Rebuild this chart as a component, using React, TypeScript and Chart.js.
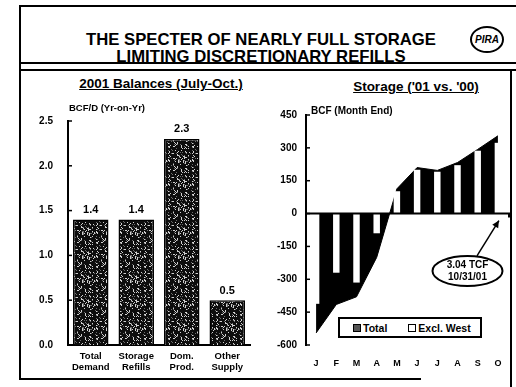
import React, { useEffect, useRef } from "react";
import { Chart, registerables } from "chart.js";

Chart.register(...registerables);

const FONT = '"Liberation Sans", Arial, Helvetica, sans-serif';

// ---- Left panel: 2001 Balances (July-Oct.) ----
const balanceCategories = [
  ["Total", "Demand"],
  ["Storage", "Refills"],
  ["Dom.", "Prod."],
  ["Other", "Supply"],
];
const balanceValues = [1.4, 1.4, 2.3, 0.5];
const balanceTicks = [0, 0.5, 1.0, 1.5, 2.0, 2.5];

// ---- Right panel: Storage ('01 vs. '00) ----
const months = ["J", "F", "M", "A", "M", "J", "J", "A", "S", "O"];
const storageTotal = [-545, -415, -380, -200, 113, 210, 197, 233, 293, 355];
const storageExclWest = [-412, -270, -315, -90, 102, 200, 191, 221, 287, 323];
const storageTicks = [-600, -450, -300, -150, 0, 150, 300, 450];

function makeSpeckle(ctx: CanvasRenderingContext2D): CanvasPattern | string {
  const size = 24;
  const c = document.createElement("canvas");
  c.width = size;
  c.height = size;
  const g = c.getContext("2d");
  if (!g) return "#333";
  g.fillStyle = "#0d0d0d";
  g.fillRect(0, 0, size, size);
  for (let y = 0; y < size; y++) {
    for (let x = 0; x < size; x++) {
      let h = (x * 374761393 + y * 668265263) | 0;
      h = Math.imul(h ^ (h >>> 13), 1274126177);
      h = (h ^ (h >>> 16)) >>> 0;
      const m = h % 100;
      if (m < 14) {
        g.fillStyle = "#d0d0d0";
        g.fillRect(x, y, 1, 1);
      } else if (m < 22) {
        g.fillStyle = "#6a6a6a";
        g.fillRect(x, y, 1, 1);
      }
    }
  }
  return ctx.createPattern(c, "repeat") || "#333";
}

const innerTicks = {
  id: "innerTicks",
  afterDatasetsDraw(chart: any) {
    const { ctx, chartArea, scales } = chart;
    const y = scales.y;
    ctx.save();
    ctx.strokeStyle = "#000";
    ctx.lineWidth = 1.5;
    y.ticks.forEach((t: any) => {
      const py = y.getPixelForValue(t.value);
      ctx.beginPath();
      ctx.moveTo(chartArea.left, py);
      ctx.lineTo(chartArea.left + 4, py);
      ctx.stroke();
    });
    ctx.restore();
  },
};

const valueLabels = {
  id: "valueLabels",
  afterDatasetsDraw(chart: any) {
    const { ctx } = chart;
    const meta = chart.getDatasetMeta(0);
    ctx.save();
    ctx.fillStyle = "#000";
    ctx.font = `bold 11px ${FONT}`;
    ctx.textAlign = "center";
    ctx.textBaseline = "bottom";
    meta.data.forEach((el: any, i: number) => {
      ctx.fillText(balanceValues[i].toFixed(1), el.x, el.y - 4);
    });
    ctx.restore();
  },
};

const storageDecor = {
  id: "storageDecor",
  afterDatasetsDraw(chart: any) {
    const { ctx, chartArea, scales } = chart;
    const x = scales.x;
    const y = scales.y;
    const y0 = y.getPixelForValue(0);
    ctx.save();
    // zero line
    ctx.strokeStyle = "#000";
    ctx.lineWidth = 2;
    ctx.beginPath();
    ctx.moveTo(chartArea.left, y0);
    ctx.lineTo(chartArea.right + 2, y0);
    ctx.stroke();
    ctx.beginPath();
    ctx.moveTo(chartArea.right + 1, y0);
    ctx.lineTo(chartArea.right + 1, y0 + 4);
    ctx.stroke();

    // callout ellipse
    const cx = chartArea.right - 40.5;
    const cy = y.getPixelForValue(-262);
    ctx.lineWidth = 2;
    ctx.fillStyle = "#fff";
    ctx.beginPath();
    ctx.ellipse(cx, cy, 35, 15, 0, 0, Math.PI * 2);
    ctx.fill();
    ctx.stroke();
    ctx.fillStyle = "#000";
    ctx.font = `bold 10px ${FONT}`;
    ctx.textAlign = "center";
    ctx.textBaseline = "middle";
    ctx.fillText("3.04 TCF", cx, cy - 6);
    ctx.fillText("10/31/01", cx, cy + 6);

    // arrow
    const sx = cx + 9.5;
    const sy = cy - 15;
    const tx = x.getPixelForValue(9) + 1;
    const ty = y0 + 7;
    ctx.lineWidth = 1.5;
    ctx.beginPath();
    ctx.moveTo(sx, sy);
    ctx.lineTo(tx, ty);
    ctx.stroke();
    const dx = tx - sx;
    const dy = ty - sy;
    const len = Math.hypot(dx, dy);
    const ux = dx / len;
    const uy = dy / len;
    ctx.beginPath();
    ctx.moveTo(tx, ty);
    ctx.lineTo(tx - ux * 7 - uy * 3.5, ty - uy * 7 + ux * 3.5);
    ctx.lineTo(tx - ux * 7 + uy * 3.5, ty - uy * 7 - ux * 3.5);
    ctx.closePath();
    ctx.fill();
    ctx.restore();
  },
};

export default function App() {
  const leftRef = useRef<HTMLCanvasElement>(null);
  const rightRef = useRef<HTMLCanvasElement>(null);

  useEffect(() => {
    document.body.style.margin = "0";
    const lc = leftRef.current!;
    const rc = rightRef.current!;
    const lctx = lc.getContext("2d")!;
    const speckle = makeSpeckle(lctx);

    const tickFont = { family: FONT, size: 10, weight: "bold" as const };

    const left = new Chart(lc, {
      type: "bar",
      data: {
        labels: balanceCategories,
        datasets: [
          {
            data: balanceValues,
            backgroundColor: speckle as any,
            borderColor: "#000",
            borderWidth: 1.5,
            barPercentage: 0.78,
            categoryPercentage: 1,
          },
        ],
      },
      options: {
        animation: false,
        responsive: false,
        maintainAspectRatio: false,
        layout: { padding: { top: 11, right: 8, left: 0, bottom: 0 } },
        plugins: { legend: { display: false }, tooltip: { enabled: false } },
        scales: {
          x: {
            grid: { display: false, drawTicks: false },
            border: { display: true, color: "#000", width: 2 },
            ticks: {
              color: "#000",
              font: { family: FONT, size: 9.5, weight: "bold", lineHeight: 1.25 },
              padding: 5,
              maxRotation: 0,
              autoSkip: false,
            },
            afterFit: (s: any) => {
              s.height = 30;
            },
          },
          y: {
            min: 0,
            max: 2.5,
            afterBuildTicks: (a: any) => {
              a.ticks = balanceTicks.map((v) => ({ value: v }));
            },
            grid: { display: false, drawTicks: false },
            border: { display: true, color: "#000", width: 2 },
            ticks: {
              color: "#000",
              font: tickFont,
              padding: 15,
              callback: (v: any) => Number(v).toFixed(1),
            },
            afterFit: (s: any) => {
              s.width = 48;
            },
          },
        },
      },
      plugins: [innerTicks, valueLabels],
    });

    const right = new Chart(rc, {
      type: "bar",
      data: {
        labels: months,
        datasets: [
          {
            type: "bar",
            label: "Excl. West",
            data: storageExclWest,
            backgroundColor: "#fff",
            borderColor: "#000",
            borderWidth: 0,
            barPercentage: 0.32,
            categoryPercentage: 1,
            order: 1,
          },
          {
            type: "line",
            label: "Total",
            data: storageTotal,
            borderColor: "#000",
            backgroundColor: "#000",
            borderWidth: 1,
            fill: "origin",
            pointRadius: 0,
            tension: 0,
            order: 2,
          } as any,
        ],
      },
      options: {
        animation: false,
        responsive: false,
        maintainAspectRatio: false,
        layout: { padding: { top: 11, right: 8, left: 0, bottom: 0 } },
        plugins: { legend: { display: false }, tooltip: { enabled: false } },
        scales: {
          x: {
            grid: { display: false, drawTicks: false },
            border: { display: false },
            ticks: {
              color: "#000",
              font: { family: FONT, size: 9, weight: "bold" },
              padding: 13,
              maxRotation: 0,
              autoSkip: false,
            },
            afterFit: (s: any) => {
              s.height = 30;
            },
          },
          y: {
            min: -600,
            max: 450,
            afterBuildTicks: (a: any) => {
              a.ticks = storageTicks.map((v) => ({ value: v }));
            },
            grid: { display: false, drawTicks: false },
            border: { display: true, color: "#000", width: 2 },
            ticks: { color: "#000", font: tickFont, padding: 9 },
            afterFit: (s: any) => {
              s.width = 44;
            },
          },
        },
      },
      plugins: [innerTicks, storageDecor],
    });

    return () => {
      left.destroy();
      right.destroy();
    };
  }, []);

  const line = (l: number, t: number, w: number, h: number) => (
    <div style={{ position: "absolute", left: l, top: t, width: w, height: h, background: "#000" }} />
  );

  return (
    <div
      style={{
        position: "absolute",
        left: 0,
        top: 0,
        width: 516,
        height: 387,
        background: "#fff",
        overflow: "hidden",
        fontFamily: FONT,
        color: "#000",
      }}
    >
      {/* frame */}
      {line(20, 5, 496, 2)}
      {line(19, 5, 2, 375)}
      {line(20, 62, 496, 2)}
      {line(20, 69, 496, 1.5)}
      {line(19, 378, 402, 2)}
      {line(510, 69, 2, 318)}

      {/* title */}
      <div
        style={{
          position: "absolute",
          left: 6,
          width: 510,
          top: 31,
          textAlign: "center",
          fontSize: 16.7,
          lineHeight: "17px",
          fontWeight: "bold",
          whiteSpace: "pre",
        }}
      >
        {"THE SPECTER OF NEARLY FULL STORAGE\nLIMITING DISCRETIONARY REFILLS"}
      </div>
      <div
        style={{
          position: "absolute",
          left: 470,
          top: 26,
          width: 34,
          height: 27,
          boxSizing: "border-box",
          border: "2px solid #000",
          borderRadius: "50%",
          fontSize: 10,
          fontWeight: "bold",
          fontStyle: "italic",
          lineHeight: "23px",
          textAlign: "center",
        }}
      >
        PIRA
      </div>

      {/* subtitles */}
      <div
        style={{
          position: "absolute",
          left: 61,
          width: 200,
          top: 76,
          textAlign: "center",
          fontSize: 13.5,
          lineHeight: "16px",
          fontWeight: "bold",
          textDecoration: "underline",
        }}
      >
        2001 Balances (July-Oct.)
      </div>
      <div
        style={{
          position: "absolute",
          left: 316,
          width: 200,
          top: 79,
          textAlign: "center",
          fontSize: 13.5,
          lineHeight: "16px",
          fontWeight: "bold",
          textDecoration: "underline",
        }}
      >
        Storage ('01 vs. '00)
      </div>

      <canvas
        ref={leftRef}
        width={238}
        height={275}
        style={{ position: "absolute", left: 20, top: 100, width: 238, height: 275 }}
      />
      <canvas
        ref={rightRef}
        width={254}
        height={275}
        style={{ position: "absolute", left: 262, top: 100, width: 254, height: 275 }}
      />

      {/* axis titles */}
      <div
        style={{
          position: "absolute",
          left: 69,
          top: 102,
          fontSize: 9.5,
          lineHeight: "11px",
          fontWeight: "bold",
          whiteSpace: "nowrap",
        }}
      >
        BCF/D (Yr-on-Yr)
      </div>
      <div
        style={{
          position: "absolute",
          left: 311,
          top: 105,
          fontSize: 10,
          lineHeight: "11px",
          fontWeight: "bold",
          whiteSpace: "nowrap",
        }}
      >
        BCF (Month End)
      </div>

      {/* legend */}
      <div
        style={{
          position: "absolute",
          left: 338,
          top: 317,
          width: 144,
          height: 21,
          boxSizing: "border-box",
          border: "2px solid #000",
          background: "#fff",
          fontSize: 10.5,
          fontWeight: "bold",
          display: "flex",
          alignItems: "center",
          whiteSpace: "nowrap",
        }}
      >
        <span
          style={{
            display: "inline-block",
            width: 8,
            height: 8,
            boxSizing: "border-box",
            border: "1px solid #000",
            background: "#555",
            marginLeft: 13,
            marginRight: 2,
          }}
        />
        <span>Total</span>
        <span
          style={{
            display: "inline-block",
            width: 8,
            height: 8,
            boxSizing: "border-box",
            border: "1.5px solid #000",
            background: "#fff",
            marginLeft: 21,
            marginRight: 2,
          }}
        />
        <span>Excl. West</span>
      </div>
    </div>
  );
}
